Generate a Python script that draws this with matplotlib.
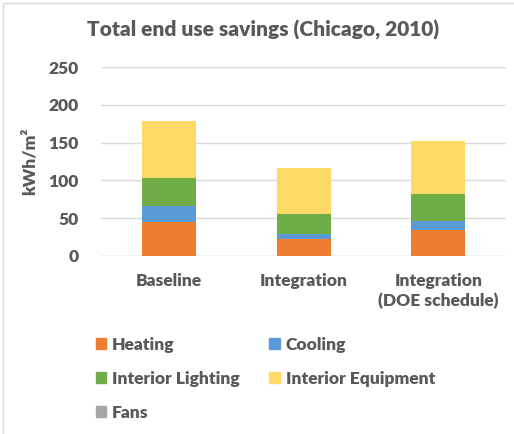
import matplotlib
matplotlib.use("Agg")
import matplotlib.pyplot as plt
from matplotlib.patches import Patch, Rectangle
from matplotlib import font_manager
import numpy as np

categories = ["Baseline", "Integration", "Integration\n(DOE schedule)"]
heating = [45.0, 22.5, 35.0]
cooling = [21.7, 6.6, 11.9]
lighting = [36.0, 27.0, 35.7]
equipment = [75.5, 59.7, 69.6]
fans = [1.0, 0.3, 0.5]

series_names = ["Heating", "Cooling", "Interior Lighting", "Interior Equipment", "Fans"]
colors = ["#ED7D31", "#5B9BD5", "#70AD47", "#FFD966", "#A5A5A5"]
yticks = [0, 50, 100, 150, 200, 250]

# pick a heavy Lato file
cands = {}
for fe in font_manager.fontManager.ttflist:
    if fe.name == "Lato" and fe.style == "normal":
        cands.setdefault(fe.weight, fe.fname)
bold_file = None
for w in (800, 700, 900):
    if w in cands:
        bold_file = cands[w]
        break

def fp(size):
    if bold_file:
        return font_manager.FontProperties(fname=bold_file, size=size)
    return font_manager.FontProperties(family="DejaVu Sans", weight="bold", size=size)

plt.rcParams['font.family'] = ['Lato', 'DejaVu Sans']
txt = "#595959"

fig = plt.figure(figsize=(5.14, 4.34), dpi=100)
ax = fig.add_axes([101/514, 1-256/434, 405/514, 189/434])

x = np.arange(len(categories))
bottom = np.zeros(len(categories))
for vals, name, c in zip([heating, cooling, lighting, equipment, fans], series_names, colors):
    ax.bar(x, vals, 0.4, bottom=bottom, color=c, label=name, zorder=3)
    bottom += np.array(vals)

ax.set_xlim(-0.5, 2.5)
ax.set_ylim(0, 250)
ax.set_yticks(yticks)
ax.yaxis.grid(True, color="#D9D9D9", linewidth=1, zorder=0)
for s in ax.spines.values():
    s.set_visible(False)
ax.axhline(0, color="#D9D9D9", linewidth=1, zorder=1)
ax.tick_params(axis='both', length=0, labelcolor=txt)
ax.tick_params(axis='y', pad=16)
ax.tick_params(axis='x', pad=12)
ax.set_xticks(x)
ax.set_xticklabels(categories, linespacing=1.3)
for lbl in ax.get_yticklabels() + ax.get_xticklabels():
    lbl.set_fontproperties(fp(12.5))
ax.set_ylabel("kWh/m²", fontproperties=fp(12.5), color=txt, labelpad=8)

fig.text(263/514, 1-30/434, "Total end use savings (Chicago, 2010)", ha='center', va='center',
         fontproperties=fp(15), color=txt)

order = [0, 2, 4, 1, 3]
handles = [Patch(color=colors[i]) for i in order]
labels = [series_names[i] for i in order]
leg = fig.legend(handles, labels, loc='upper left', bbox_to_anchor=(80/514, 1-321/434),
                 ncol=2, frameon=False, prop=fp(12.5), handlelength=0.6, handleheight=0.6,
                 handletextpad=0.35, columnspacing=1.7, labelspacing=1.05)
for t in leg.get_texts():
    t.set_color(txt)

fig.patches.append(Rectangle((3/514, -0.1), 1.2, 1-3/434+0.1, transform=fig.transFigure,
                             fill=False, edgecolor="#D9D9D9", linewidth=1))

fig.savefig("out.png", dpi=100)
